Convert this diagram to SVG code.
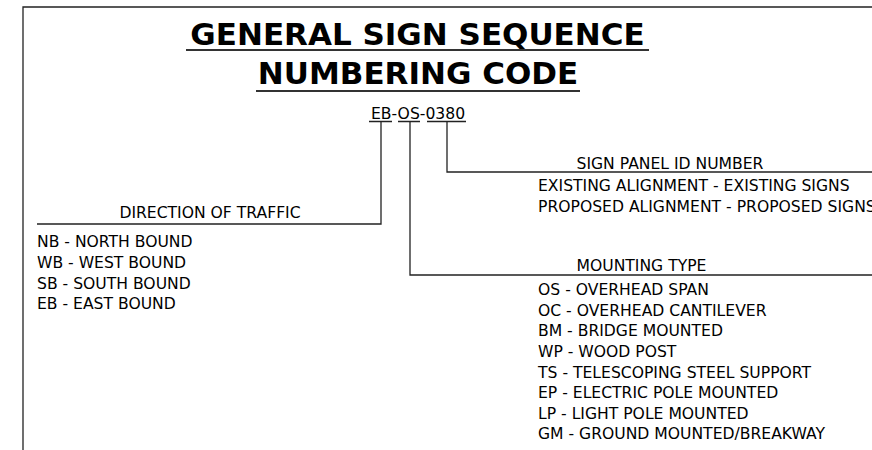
<svg xmlns="http://www.w3.org/2000/svg" width="872" height="450" viewBox="0 0 872 450">
<style>
.t{font-family:"DejaVu Sans",sans-serif;font-size:15.6px;fill:#000}
.h{font-family:"DejaVu Sans",sans-serif;font-weight:bold;font-size:31px;fill:#000;text-anchor:middle}
.ln{stroke:#222;stroke-width:1.3;fill:none}
.ul{stroke:#333;stroke-width:2;fill:none}
</style>
<rect width="872" height="450" fill="#fff"/>
<g id="frame"><path class="ln" d="M23,450 V7 H872" stroke-width="1.5"/></g>
<g id="title">
<text class="h" x="417.5" y="45">GENERAL SIGN SEQUENCE</text>
<line class="ul" x1="186" y1="50" x2="649" y2="50"/>
<text class="h" x="418" y="84">NUMBERING CODE</text>
<line class="ul" x1="256" y1="91" x2="580" y2="91"/>
</g>
<g id="code">
<text class="t" x="371" y="119">EB-OS-0380</text>
<path class="ln" d="M369,121.5 H392 M398,121.5 H420 M427,121.5 H466"/>
</g>
<g id="connectors">
<path class="ln" d="M381,121.5 V224 H37"/>
<path class="ln" d="M410,121.5 V275 H872"/>
<path class="ln" d="M447,121.5 V172 H872"/>
</g>
<g id="direction">
<text class="t" x="210" y="218" text-anchor="middle">DIRECTION OF TRAFFIC</text>
<text class="t" x="37" y="247">NB - NORTH BOUND</text>
<text class="t" x="37" y="268">WB - WEST BOUND</text>
<text class="t" x="37" y="288.5">SB - SOUTH BOUND</text>
<text class="t" x="37" y="309">EB - EAST BOUND</text>
</g>
<g id="panel">
<text class="t" x="670" y="169" text-anchor="middle">SIGN PANEL ID NUMBER</text>
<text class="t" x="538" y="191">EXISTING ALIGNMENT - EXISTING SIGNS</text>
<text class="t" x="538" y="211.5">PROPOSED ALIGNMENT - PROPOSED SIGNS</text>
</g>
<g id="mounting">
<text class="t" x="641.5" y="271" text-anchor="middle">MOUNTING TYPE</text>
<text class="t" x="538" y="295">OS - OVERHEAD SPAN</text>
<text class="t" x="538" y="315.5">OC - OVERHEAD CANTILEVER</text>
<text class="t" x="538" y="336">BM - BRIDGE MOUNTED</text>
<text class="t" x="538" y="357">WP - WOOD POST</text>
<text class="t" x="538" y="377.5">TS - TELESCOPING STEEL SUPPORT</text>
<text class="t" x="538" y="398">EP - ELECTRIC POLE MOUNTED</text>
<text class="t" x="538" y="418.5">LP - LIGHT POLE MOUNTED</text>
<text class="t" x="538" y="439">GM - GROUND MOUNTED/BREAKWAY</text>
</g>
</svg>
